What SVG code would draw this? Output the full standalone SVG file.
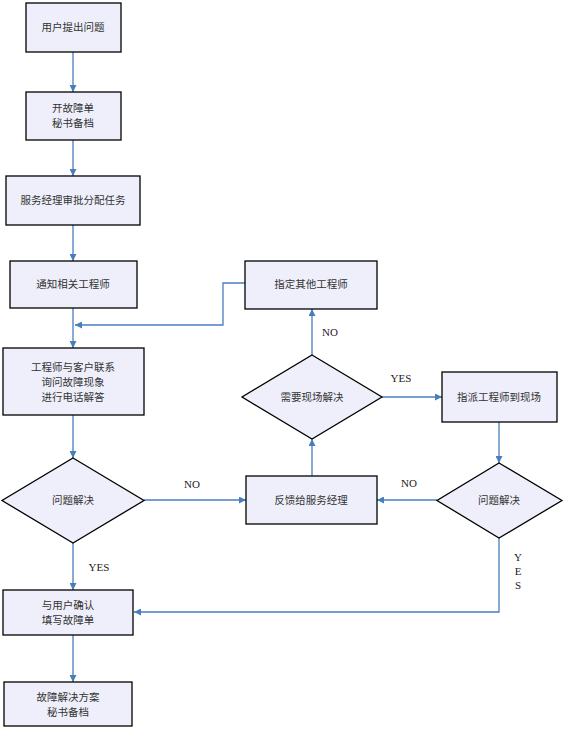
<svg xmlns="http://www.w3.org/2000/svg" width="565" height="729" viewBox="0 0 565 729">
<style>
.n{fill:#EEEFFA;stroke:#000;stroke-width:1.3}
.t{font-family:"Noto Sans CJK SC","Liberation Serif",serif;font-size:10.5px;fill:#333;text-anchor:middle}
.l{font-family:"Liberation Serif",serif;font-size:11px;fill:#222;text-anchor:middle}
.c{fill:none;stroke:#4A7EBB;stroke-width:1.3}
</style>
<defs>
<marker id="a" viewBox="0 0 10 10" refX="10" refY="5" markerWidth="7" markerHeight="7" markerUnits="userSpaceOnUse" orient="auto">
<path d="M0,0L10,5L0,10z" fill="#4A7EBB"/>
</marker>
</defs>
<rect width="565" height="729" fill="#fff"/>
<g id="connectors">
<path class="c" d="M73,52V92" marker-end="url(#a)"/>
<path class="c" d="M73,140V176" marker-end="url(#a)"/>
<path class="c" d="M73,225V261" marker-end="url(#a)"/>
<path class="c" d="M73,308V348" marker-end="url(#a)"/>
<path class="c" d="M245,283H223V325H75" marker-end="url(#a)"/>
<path class="c" d="M73,415V458" marker-end="url(#a)"/>
<path class="c" d="M144,500H246" marker-end="url(#a)"/>
<path class="c" d="M73,543V590" marker-end="url(#a)"/>
<path class="c" d="M73,635V682" marker-end="url(#a)"/>
<path class="c" d="M312,476V439" marker-end="url(#a)"/>
<path class="c" d="M312,355V309" marker-end="url(#a)"/>
<path class="c" d="M382,397H442" marker-end="url(#a)"/>
<path class="c" d="M499,422V463" marker-end="url(#a)"/>
<path class="c" d="M437,500H377" marker-end="url(#a)"/>
<path class="c" d="M499,538V612H134" marker-end="url(#a)"/>
</g>
<g id="labels">
<text class="l" x="192" y="488">NO</text>
<text class="l" x="99" y="571">YES</text>
<text class="l" x="330" y="336">NO</text>
<text class="l" x="401" y="382">YES</text>
<text class="l" x="409" y="487">NO</text>
<text class="l" x="518" y="561">Y</text>
<text class="l" x="518" y="575">E</text>
<text class="l" x="518" y="589">S</text>
</g>
<g id="n1"><rect class="n" x="26" y="3" width="95" height="49"/><text class="t" x="73" y="31">用户提出问题</text></g>
<g id="n2"><rect class="n" x="26" y="92" width="95" height="48"/><text class="t" x="73" y="112">开故障单</text><text class="t" x="73" y="127">秘书备档</text></g>
<g id="n3"><rect class="n" x="6" y="176" width="134" height="49"/><text class="t" x="73" y="204">服务经理审批分配任务</text></g>
<g id="n4"><rect class="n" x="10" y="261" width="127" height="47"/><text class="t" x="73" y="288">通知相关工程师</text></g>
<g id="n5"><rect class="n" x="3" y="348" width="141" height="67"/><text class="t" x="73" y="371">工程师与客户联系</text><text class="t" x="73" y="386">询问故障现象</text><text class="t" x="73" y="401">进行电话解答</text></g>
<g id="n6"><path class="n" d="M73,458L144,500.5L73,543L2,500.5Z"/><text class="t" x="73" y="504">问题解决</text></g>
<g id="n7"><rect class="n" x="3" y="590" width="130" height="45"/><text class="t" x="68" y="609">与用户确认</text><text class="t" x="68" y="624">填写故障单</text></g>
<g id="n8"><rect class="n" x="4" y="682" width="128" height="44"/><text class="t" x="68" y="701">故障解决方案</text><text class="t" x="68" y="716">秘书备档</text></g>
<g id="n9"><rect class="n" x="245" y="261" width="132" height="48"/><text class="t" x="311" y="288">指定其他工程师</text></g>
<g id="n10"><path class="n" d="M312,355L382,397L312,439L242,397Z"/><text class="t" x="312" y="401">需要现场解决</text></g>
<g id="n11"><rect class="n" x="442" y="372" width="115" height="50"/><text class="t" x="499" y="401">指派工程师到现场</text></g>
<g id="n12"><rect class="n" x="246" y="476" width="131" height="48"/><text class="t" x="311" y="504">反馈给服务经理</text></g>
<g id="n13"><path class="n" d="M499,463L562,500.5L499,538L437,500.5Z"/><text class="t" x="499" y="504">问题解决</text></g>
</svg>
